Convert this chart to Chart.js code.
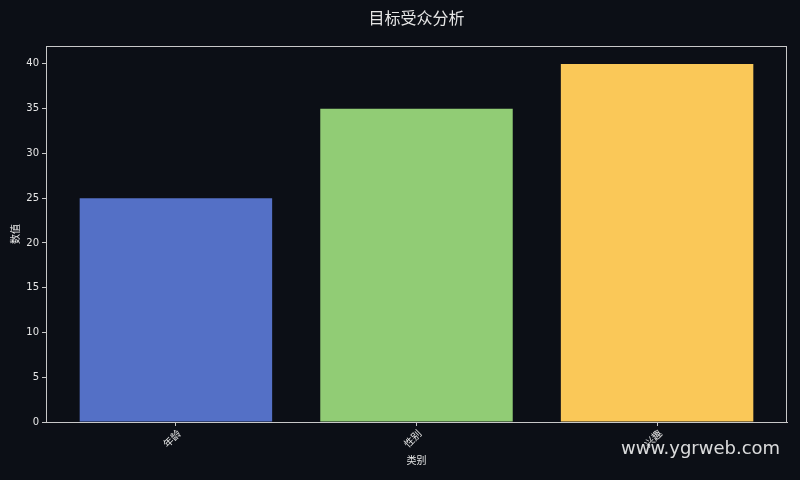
<!DOCTYPE html>
<html>
<head>
<meta charset="utf-8">
<script src="https://cdn.jsdelivr.net/npm/chart.js@4"></script>
<style>
  html, body { margin: 0; padding: 0; background: #0c0f16; }
  #wrap { position: relative; width: 800px; height: 480px; }
  #mark {
    position: absolute; left: 621px; top: 437px;
    font: 18px "DejaVu Sans", sans-serif; color: rgba(255,255,255,0.85);
    white-space: nowrap;
  }
</style>
</head>
<body>
<div id="wrap">
  <canvas id="chart" width="800" height="480"></canvas>
  <div id="mark">www.ygrweb.com</div>
</div>
<script>
const title = "目标受众分析"
const categories = ["年龄", "性别", "兴趣"]
const values = [25, 35, 40]
const colors = ["#5470c6", "#91cc75", "#fac858"]
const yTicks = [0, 5, 10, 15, 20, 25, 30, 35, 40]

const font = '"DejaVu Sans", "Noto Sans CJK SC", sans-serif'
const axisColor = "#c8c8c8"
const textColor = "#e6e6e6"

// title + box around the plot area
const frame = {
    id: "frame",
    afterDraw(chart) {
        const { ctx, chartArea: a } = chart
        ctx.save()
        ctx.strokeStyle = axisColor
        ctx.lineWidth = 1
        ctx.strokeRect(a.left + 0.5, a.top + 0.5, a.right - a.left - 1, a.bottom - a.top)
        ctx.fillStyle = textColor
        ctx.font = '16px "Noto Sans CJK SC", sans-serif'
        ctx.textAlign = "center"
        ctx.textBaseline = "middle"
        ctx.fillText(title, (a.left + a.right) / 2, 18)
        ctx.restore()
    }
}

new Chart("chart", {
    type: "bar",
    data: {
        datasets: [{
            data: values.map((v, i) => ({ x: i, y: v })),
            backgroundColor: colors,
            borderWidth: 0,
            barPercentage: 0.8,
            categoryPercentage: 1
        }]
    },
    options: {
        responsive: false,
        animation: false,
        layout: { padding: { top: 46, right: 13, left: 0, bottom: 0 } },
        plugins: { legend: { display: false }, tooltip: { enabled: false } },
        scales: {
            x: {
                type: "linear",
                min: -0.54,
                max: 2.54,
                offset: false,
                afterBuildTicks: s => { s.ticks = categories.map((c, i) => ({ value: i })) },
                afterFit: s => { s.height = 58 },
                grid: { offset: false, drawOnChartArea: false, color: axisColor, tickLength: 4 },
                border: { color: axisColor },
                ticks: {
                    color: textColor,
                    font: { family: font, size: 10 },
                    maxRotation: 45,
                    minRotation: 45,
                    labelOffset: 4,
                    padding: 2,
                    callback: v => categories[v]
                },
                title: {
                    display: true, text: "类别", color: textColor,
                    font: { family: font, size: 10 },
                    padding: { bottom: 13 }
                }
            },
            y: {
                min: 0,
                max: 42,
                afterBuildTicks: s => { s.ticks = yTicks.map(v => ({ value: v })) },
                afterFit: s => { s.width = 46 },
                grid: { drawOnChartArea: false, color: axisColor, tickLength: 4 },
                border: { color: axisColor },
                ticks: { color: textColor, font: { family: font, size: 10 }, padding: 3 },
                title: {
                    display: true, text: "数值", color: textColor,
                    font: { family: font, size: 10 },
                    padding: { top: 10 }
                }
            }
        }
    },
    plugins: [frame]
})
</script>
</body>
</html>
